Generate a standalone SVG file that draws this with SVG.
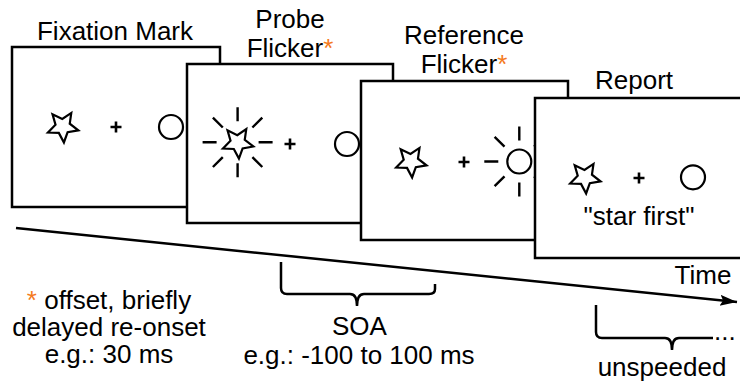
<svg xmlns="http://www.w3.org/2000/svg" xmlns:xlink="http://www.w3.org/1999/xlink" width="740" height="381" viewBox="0 0 740 381">
  <style>
    .frame { fill: #ffffff; stroke: #000000; stroke-width: 2.5; }
    .sym { fill: none; stroke: #000000; stroke-width: 2.2; stroke-linejoin: miter; }
    .plus { fill: none; stroke: #000000; stroke-width: 2.6; }
    .ray { fill: none; stroke: #000000; stroke-width: 2.4; }
    .lbl { font-family: "Liberation Sans", Arial, sans-serif; font-size: 26px; fill: #000000; text-anchor: middle; }
    .ast { fill: #f47a20; }
    .conn { fill: none; stroke: #000000; stroke-width: 2.5; }
  </style>
  <defs>
    <polygon id="star" class="sym" points="15.52,3.87 4.82,5.75 1.12,15.96 -3.97,6.36 -14.84,5.99 -7.28,-1.81 -10.28,-12.26 -0.52,-7.48 8.48,-13.57 6.95,-2.81"/>
    <path id="plus" class="plus" d="M-5.5,0 H5.5 M0,-5.5 V5.5"/>
    <circle id="disc" class="sym" r="12"/>
    <path id="rays" class="ray" d="M21,0 H35 M-21,0 H-35 M0,21 V35 M0,-21 V-35 M14.8,14.8 L24.7,24.7 M-14.8,14.8 L-24.7,24.7 M14.8,-14.8 L24.7,-24.7 M-14.8,-14.8 L-24.7,-24.7"/>
    <marker id="arrow" markerUnits="userSpaceOnUse" markerWidth="18" markerHeight="12" refX="17" refY="5.5" orient="auto">
      <path d="M0,0 L17,5.5 L0,11 L3,5.5 z" fill="#000000"/>
    </marker>
  </defs>

  <g id="connectors">
    <line class="conn" x1="16" y1="228" x2="737" y2="302" marker-end="url(#arrow)"/>
    <path id="brace-soa" class="conn" d="M281,262 V288 Q281,294 287,294 H350 Q357,294 357,306 Q357,294 364,294 H429 Q435,294 435,289 V284"/>
    <path id="brace-unspeeded" class="conn" d="M596,305 V332 Q596,338 602,338 H665 Q672,338 672,350 Q672,338 679,338 H713"/>
  </g>

  <g id="fixation">
    <rect class="frame" x="12" y="47" width="208" height="160"/>
    <text class="lbl" x="115" y="40">Fixation Mark</text>
    <use xlink:href="#star" x="62.8" y="126.5"/>
    <use xlink:href="#plus" x="116" y="127"/>
    <use xlink:href="#disc" x="171" y="127"/>
  </g>

  <g id="probe">
    <rect class="frame" x="187" y="64" width="206" height="159"/>
    <text class="lbl" x="290" y="27.5">Probe</text>
    <text class="lbl" x="290" y="56.5">Flicker<tspan class="ast">*</tspan></text>
    <use xlink:href="#rays" x="237.6" y="142.3"/>
    <use xlink:href="#star" x="237.8" y="142.6"/>
    <use xlink:href="#plus" x="290" y="144"/>
    <use xlink:href="#disc" x="347" y="144"/>
  </g>

  <g id="reference">
    <rect class="frame" x="361" y="81" width="207" height="159"/>
    <text class="lbl" x="464" y="44">Reference</text>
    <text class="lbl" x="464" y="73">Flicker<tspan class="ast">*</tspan></text>
    <use xlink:href="#star" x="411" y="161.5"/>
    <use xlink:href="#plus" x="464" y="162"/>
    <use xlink:href="#rays" x="519.3" y="161.5"/>
    <use xlink:href="#disc" x="519.3" y="161.5"/>
  </g>

  <g id="report">
    <rect class="frame" x="535" y="98" width="212" height="160"/>
    <text class="lbl" x="634" y="89">Report</text>
    <use xlink:href="#star" x="585" y="177.5"/>
    <use xlink:href="#plus" x="639" y="178"/>
    <use xlink:href="#disc" x="693" y="177.3"/>
    <text class="lbl" x="639" y="225">"star first"</text>
  </g>

  <g id="time-label">
    <text class="lbl" x="703" y="284">Time</text>
  </g>

  <g id="note">
    <text class="lbl" x="109" y="309"><tspan class="ast">*</tspan> offset, briefly</text>
    <text class="lbl" x="109" y="336">delayed re-onset</text>
    <text class="lbl" x="109" y="363">e.g.: 30 ms</text>
  </g>

  <g id="soa-label">
    <text class="lbl" x="359.5" y="335">SOA</text>
    <text class="lbl" x="359" y="364">e.g.: -100 to 100 ms</text>
  </g>

  <g id="unspeeded-label">
    <text class="lbl" x="714" y="340" style="text-anchor:start">...</text>
    <text class="lbl" x="662" y="376">unspeeded</text>
  </g>
</svg>
